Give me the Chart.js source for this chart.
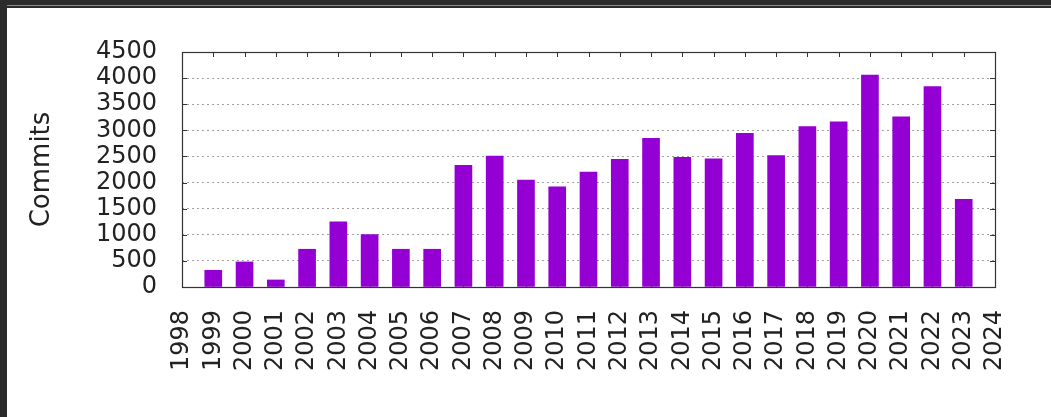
<!DOCTYPE html>
<html>
<head>
<meta charset="utf-8">
<script src="https://cdn.jsdelivr.net/npm/chart.js@4.4.0/dist/chart.umd.min.js"></script>
<style>
  html, body { margin: 0; padding: 0; background: #ffffff; overflow: hidden; }
  #wrap { position: relative; width: 1051px; height: 417px; }
  #c { position: absolute; left: 0; top: 0; }
  .frame { position: absolute; background: #2b2b2b; pointer-events: none; }
  #ftop { left: 0; top: 0; width: 1051px; height: 8px; }
  #fline { position: absolute; left: 6px; top: 5px; width: 1045px; height: 1px; background: #7f9a70; }
  #fleft { left: 0; top: 0; width: 7px; height: 417px; }
</style>
</head>
<body>
<div id="wrap">
  <canvas id="c" width="1051" height="417"></canvas>
  <div class="frame" id="ftop"></div>
  <div id="fline"></div>
  <div class="frame" id="fleft"></div>
</div>
<script>
const years = [1999, 2000, 2001, 2002, 2003, 2004, 2005, 2006, 2007, 2008, 2009, 2010,
               2011, 2012, 2013, 2014, 2015, 2016, 2017, 2018, 2019, 2020, 2021, 2022, 2023];
const commits = [320, 480, 135, 723, 1248, 1005, 723, 723, 2330, 2509, 2048, 1920,
                 2202, 2445, 2848, 2483, 2455, 2944, 2515, 3070, 3162, 4057, 3258, 3840, 1677];
const xMin = 1998, xMax = 2024;
const yMin = 0, yMax = 4500, yStep = 500;
const yTitle = 'Commits';

const textColor = '#222222';
const fontFamily = '"DejaVu Sans", "Liberation Sans", sans-serif';

const framePlugin = {
  id: 'gnuFrame',
  beforeDatasetsDraw(chart) {
    const {ctx, chartArea: a, scales: {x, y}} = chart;
    const tl = 5;
    ctx.save();
    ctx.strokeStyle = '#333333';
    ctx.lineWidth = 1;
    ctx.beginPath();
    x.ticks.forEach(t => {
      const px = Math.round(x.getPixelForValue(t.value)) + 0.5;
      ctx.moveTo(px, a.top); ctx.lineTo(px, a.top + tl);
      ctx.moveTo(px, a.bottom); ctx.lineTo(px, a.bottom - tl);
    });
    y.ticks.forEach(t => {
      const py = Math.round(y.getPixelForValue(t.value)) + 0.5;
      ctx.moveTo(a.left, py); ctx.lineTo(a.left + tl, py);
      ctx.moveTo(a.right, py); ctx.lineTo(a.right - tl, py);
    });
    ctx.stroke();
    ctx.restore();
  },
  afterDatasetsDraw(chart) {
    const {ctx, chartArea: a} = chart;
    ctx.save();
    ctx.strokeStyle = '#333333';
    ctx.lineWidth = 1.2;
    ctx.strokeRect(Math.round(a.left) + 0.5, Math.round(a.top) + 0.5,
                   Math.round(a.right - a.left), Math.round(a.bottom - a.top));
    ctx.restore();
  }
};

new Chart(document.getElementById('c'), {
  type: 'bar',
  data: {
    datasets: [{
      data: years.map((yr, i) => ({x: yr, y: commits[i]})),
      backgroundColor: '#9400d3',
      borderWidth: 0,
      barThickness: 17
    }]
  },
  options: {
    responsive: false,
    animation: false,
    events: [],
    layout: { padding: { left: 0, top: 52, right: 56, bottom: 0 } },
    plugins: { legend: { display: false }, tooltip: { enabled: false } },
    scales: {
      x: {
        type: 'linear',
        min: xMin, max: xMax,
        offset: false,
        grid: { display: false, drawTicks: false },
        border: { display: false },
        afterFit(scale) { scale.height = 130; },
        ticks: {
          stepSize: 1,
          autoSkip: false,
          maxRotation: 90, minRotation: 90,
          padding: 23,
          color: textColor,
          font: { family: fontFamily, size: 24 },
          callback: v => String(v)
        }
      },
      y: {
        min: yMin, max: yMax,
        grid: {
          drawTicks: false,
          lineWidth: 1,
          color: c => (c.tick && (c.tick.value === yMin || c.tick.value === yMax)) ? 'rgba(0,0,0,0)' : '#a0a0a0'
        },
        border: { display: false, dash: [2, 3] },
        afterFit(scale) { scale.width = 182; },
        title: {
          display: true,
          text: yTitle,
          color: textColor,
          font: { family: fontFamily, size: 26 },
          padding: { top: 27, bottom: 0 }
        },
        ticks: {
          stepSize: yStep,
          autoSkip: false,
          padding: 25,
          color: textColor,
          font: { family: fontFamily, size: 24, lineHeight: 1.0 },
          callback: v => String(v)
        }
      }
    }
  },
  plugins: [framePlugin]
});
</script>
</body>
</html>
